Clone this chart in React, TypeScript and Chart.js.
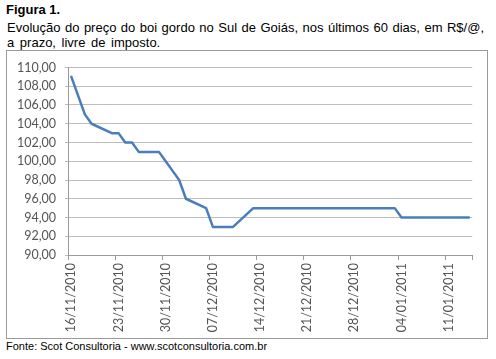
import React, { useEffect, useRef } from "react";
import { Chart, registerables } from "chart.js";

Chart.register(...registerables);

// Categories: each day of the last 60 days
const dateLabels: string[] = [
  "16/11/2010", "17/11/2010", "18/11/2010", "19/11/2010", "20/11/2010", "21/11/2010", "22/11/2010",
  "23/11/2010", "24/11/2010", "25/11/2010", "26/11/2010", "27/11/2010", "28/11/2010", "29/11/2010",
  "30/11/2010", "01/12/2010", "02/12/2010", "03/12/2010", "04/12/2010", "05/12/2010", "06/12/2010",
  "07/12/2010", "08/12/2010", "09/12/2010", "10/12/2010", "11/12/2010", "12/12/2010", "13/12/2010",
  "14/12/2010", "15/12/2010", "16/12/2010", "17/12/2010", "18/12/2010", "19/12/2010", "20/12/2010",
  "21/12/2010", "22/12/2010", "23/12/2010", "24/12/2010", "25/12/2010", "26/12/2010", "27/12/2010",
  "28/12/2010", "29/12/2010", "30/12/2010", "31/12/2010", "01/01/2011", "02/01/2011", "03/01/2011",
  "04/01/2011", "05/01/2011", "06/01/2011", "07/01/2011", "08/01/2011", "09/01/2011", "10/01/2011",
  "11/01/2011", "12/01/2011", "13/01/2011", "14/01/2011",
];

// Price in R$/@ (null = no quote, weekend)
const prices: (number | null)[] = [
  109, 107, 105, 104, null, null, 103,
  103, 102, 102, 101, null, null, 101,
  100, 99, 98, 96, null, null, 95,
  93, 93, 93, 93, null, null, 95,
  95, 95, 95, 95, null, null, 95,
  95, 95, 95, 95, null, null, 95,
  95, 95, 95, 95, null, null, 95,
  94, 94, 94, 94, null, null, 94,
  94, 94, 94, 94,
];

const labelEvery = 7;
const yMin = 90;
const yMax = 110;
const yStep = 2;

const titleBold = "Figura 1.";
const titleLine1 = "Evolução do preço do boi gordo no Sul de Goiás, nos últimos 60 dias, em R$/@,";
const titleLine2 = "a prazo, livre de imposto.";
const footer = "Fonte: Scot Consultoria - www.scotconsultoria.com.br";

export default function App() {
  const ref = useRef<HTMLCanvasElement>(null);

  useEffect(() => {
    if (!ref.current) return;
    const tickFont = { family: "Lato, 'Liberation Sans', Arial, sans-serif", size: 12.5 };
    const chart = new Chart(ref.current, {
      type: "line",
      data: {
        labels: dateLabels,
        datasets: [
          {
            data: prices,
            borderColor: "#4a7ebb",
            borderWidth: 2.5,
            pointRadius: 0,
            spanGaps: true,
            tension: 0,
            borderJoinStyle: "round",
            borderCapStyle: "round",
          },
        ],
      },
      options: {
        animation: false,
        responsive: false,
        devicePixelRatio: 1,
        layout: { padding: { top: 14, right: 14, left: 0, bottom: 0 } },
        plugins: { legend: { display: false }, tooltip: { enabled: false } },
        scales: {
          x: {
            type: "category",
            offset: true,
            grid: {
              offset: true,
              drawOnChartArea: false,
              drawTicks: true,
              tickLength: 5,
              color: (ctx: any) =>
                ctx.index === undefined || ctx.index % labelEvery === 0 ? "#9a9a9a" : "rgba(0,0,0,0)",
            },
            border: { color: "#9a9a9a", width: 1 },
            ticks: {
              autoSkip: false,
              maxRotation: 90,
              minRotation: 90,
              padding: 3,
              color: "#555555",
              font: tickFont,
              callback: (_v: any, i: number) => (i % labelEvery === 0 ? dateLabels[i] : ""),
            },
            afterFit: (scale: any) => {
              scale.height = 83;
            },
          },
          y: {
            min: yMin,
            max: yMax,
            grid: { color: "#bdbdbd", tickLength: 3, drawTicks: true },
            border: { color: "#9a9a9a", width: 1 },
            ticks: {
              stepSize: yStep,
              padding: 9,
              color: "#555555",
              font: tickFont,
              callback: (v: any) => Number(v).toFixed(2).replace(".", ","),
            },
            afterFit: (scale: any) => {
              scale.width = 61;
            },
          },
        },
      },
    } as any);
    return () => chart.destroy();
  }, []);

  const textFont = "'Liberation Sans', Arial, sans-serif";

  return (
    <div
      style={{
        position: "fixed",
        left: 0,
        top: 0,
        width: 496,
        height: 359,
        background: "#ffffff",
        fontFamily: textFont,
        color: "#000",
        overflow: "hidden",
      }}
    >
      <div
        style={{
          position: "absolute",
          left: 6,
          top: 2,
          fontSize: 13,
          fontWeight: "bold",
          lineHeight: "15px",
          whiteSpace: "nowrap",
        }}
      >
        {titleBold}
      </div>
      <div
        style={{
          position: "absolute",
          left: 7,
          top: 20,
          width: 477,
          fontSize: 13,
          lineHeight: "15px",
          textAlign: "justify",
          textAlignLast: "justify" as any,
          whiteSpace: "nowrap",
        }}
      >
        {titleLine1}
      </div>
      <div
        style={{
          position: "absolute",
          left: 7,
          top: 35,
          fontSize: 13,
          lineHeight: "15px",
          whiteSpace: "nowrap",
          wordSpacing: 2,
        }}
      >
        {titleLine2}
      </div>
      <div
        style={{
          position: "absolute",
          left: 6,
          top: 50,
          width: 480,
          height: 287,
          border: "1px solid #9b9b9b",
        }}
      >
        <canvas ref={ref} width={480} height={287} style={{ display: "block", width: 480, height: 287 }} />
      </div>
      <div
        style={{
          position: "absolute",
          left: 6,
          top: 340,
          fontSize: 11,
          lineHeight: "13px",
          whiteSpace: "nowrap",
        }}
      >
        {footer}
      </div>
    </div>
  );
}
